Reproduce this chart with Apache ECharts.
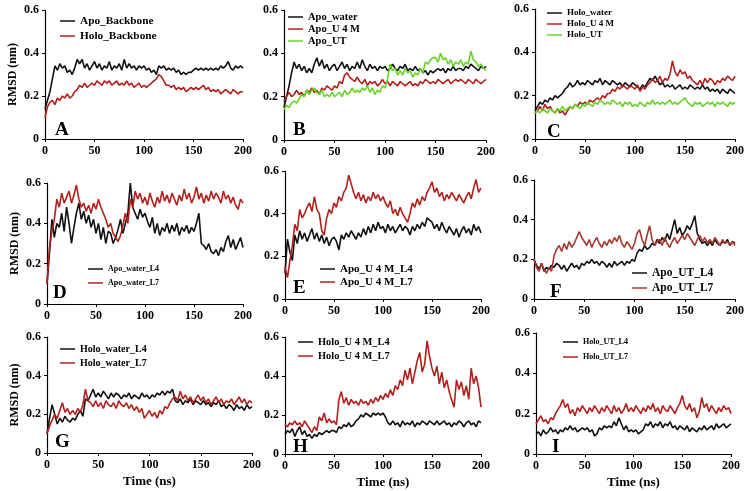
<!DOCTYPE html>
<html>
<head>
<meta charset="utf-8">
<script src="https://cdn.jsdelivr.net/npm/echarts@6/dist/echarts.min.js"></script>
<style>
  html, body { margin:0; padding:0; background:#fff; }
  #chart { width:747px; height:491px; }
</style>
</head>
<body>
<div id="chart"></div>
<script>
// time axis (ns), one frame every 2.5 ns
var time = [0,2.5,5,7.5,10,12.5,15,17.5,20,22.5,25,27.5,30,32.5,35,37.5,40,42.5,45,47.5,
  50,52.5,55,57.5,60,62.5,65,67.5,70,72.5,75,77.5,80,82.5,85,87.5,90,92.5,95,97.5,
  100,102.5,105,107.5,110,112.5,115,117.5,120,122.5,125,127.5,130,132.5,135,137.5,140,142.5,145,147.5,
  150,152.5,155,157.5,160,162.5,165,167.5,170,172.5,175,177.5,180,182.5,185,187.5,190,192.5,195,197.5,200];

var xTicks = [0, 50, 100, 150, 200];
var yTicks = [0, 0.2, 0.4, 0.6];

// A
var apoBackbone = [0.14,0.18,0.22,0.28,0.34,0.32,0.35,0.33,0.34,0.31,
  0.32,0.30,0.33,0.37,0.35,0.37,0.33,0.35,0.32,0.34,
  0.36,0.33,0.35,0.32,0.34,0.33,0.36,0.32,0.34,0.33,
  0.35,0.32,0.37,0.33,0.35,0.33,0.34,0.32,0.34,0.33,
  0.34,0.32,0.33,0.31,0.32,0.30,0.34,0.33,0.34,0.32,
  0.33,0.32,0.33,0.31,0.32,0.30,0.31,0.30,0.31,0.31,
  0.32,0.33,0.32,0.33,0.32,0.33,0.32,0.33,0.32,0.33,
  0.32,0.34,0.33,0.34,0.36,0.33,0.32,0.34,0.33,0.34,0.33];
var holoBackbone = [0.10,0.15,0.17,0.18,0.16,0.19,0.18,0.20,0.19,0.21,
  0.19,0.20,0.22,0.23,0.25,0.24,0.26,0.24,0.25,0.26,
  0.25,0.27,0.26,0.25,0.27,0.26,0.27,0.25,0.26,0.27,
  0.25,0.26,0.25,0.27,0.25,0.26,0.24,0.25,0.26,0.24,
  0.25,0.24,0.25,0.26,0.27,0.28,0.30,0.29,0.27,0.25,
  0.25,0.24,0.25,0.23,0.24,0.23,0.24,0.22,0.23,0.24,
  0.23,0.24,0.23,0.24,0.25,0.23,0.24,0.22,0.23,0.22,
  0.23,0.21,0.22,0.23,0.22,0.21,0.23,0.22,0.21,0.22,0.22];
// B
var apoWater = [0.15,0.20,0.25,0.31,0.36,0.33,0.35,0.32,0.34,0.31,
  0.33,0.31,0.35,0.38,0.34,0.37,0.33,0.35,0.32,0.34,
  0.35,0.32,0.34,0.36,0.33,0.35,0.32,0.34,0.33,0.36,
  0.33,0.37,0.34,0.32,0.35,0.33,0.34,0.32,0.34,0.33,
  0.34,0.32,0.33,0.35,0.33,0.32,0.34,0.33,0.35,0.32,
  0.33,0.32,0.34,0.32,0.33,0.31,0.32,0.30,0.32,0.31,
  0.32,0.33,0.32,0.33,0.31,0.33,0.32,0.34,0.32,0.33,
  0.33,0.32,0.34,0.33,0.35,0.34,0.33,0.32,0.34,0.33,0.34];
var apoUrea = [0.18,0.20,0.22,0.20,0.21,0.23,0.21,0.22,0.20,0.23,
  0.22,0.24,0.22,0.23,0.21,0.24,0.23,0.25,0.24,0.23,
  0.25,0.24,0.27,0.26,0.30,0.31,0.29,0.28,0.27,0.29,
  0.27,0.26,0.28,0.25,0.27,0.26,0.27,0.25,0.26,0.28,
  0.26,0.27,0.25,0.27,0.26,0.25,0.27,0.26,0.25,0.26,
  0.27,0.25,0.26,0.25,0.27,0.26,0.28,0.27,0.26,0.27,
  0.26,0.28,0.27,0.26,0.27,0.28,0.26,0.27,0.28,0.27,
  0.28,0.27,0.26,0.28,0.27,0.26,0.28,0.27,0.26,0.27,0.28];
var apoUT = [0.14,0.16,0.15,0.17,0.18,0.17,0.19,0.21,0.20,0.23,
  0.21,0.23,0.24,0.22,0.21,0.23,0.20,0.21,0.20,0.22,
  0.20,0.21,0.22,0.20,0.23,0.21,0.22,0.24,0.22,0.23,
  0.22,0.24,0.23,0.25,0.22,0.24,0.21,0.23,0.22,0.25,
  0.24,0.28,0.35,0.32,0.33,0.30,0.32,0.30,0.33,0.31,
  0.32,0.29,0.31,0.30,0.33,0.31,0.36,0.35,0.37,0.38,
  0.38,0.36,0.40,0.37,0.38,0.35,0.37,0.34,0.36,0.35,
  0.37,0.34,0.36,0.35,0.41,0.37,0.36,0.34,0.35,0.33,0.32];
// C
var holoWater = [0.13,0.15,0.17,0.16,0.18,0.17,0.19,0.18,0.20,0.19,
  0.20,0.21,0.23,0.24,0.26,0.24,0.25,0.27,0.25,0.26,
  0.25,0.27,0.26,0.25,0.27,0.26,0.28,0.25,0.27,0.26,
  0.25,0.27,0.26,0.25,0.26,0.24,0.26,0.25,0.24,0.26,
  0.25,0.24,0.23,0.25,0.24,0.26,0.28,0.27,0.29,0.27,
  0.25,0.26,0.24,0.25,0.24,0.25,0.23,0.24,0.25,0.23,
  0.24,0.23,0.25,0.24,0.23,0.24,0.23,0.25,0.23,0.24,
  0.22,0.23,0.22,0.23,0.21,0.23,0.22,0.21,0.23,0.22,0.21];
var holoUrea = [0.12,0.13,0.15,0.13,0.16,0.14,0.15,0.13,0.12,0.14,
  0.12,0.13,0.11,0.13,0.15,0.14,0.16,0.15,0.17,0.16,
  0.17,0.16,0.18,0.17,0.18,0.19,0.18,0.20,0.19,0.21,
  0.21,0.23,0.22,0.24,0.23,0.25,0.24,0.23,0.25,0.24,
  0.23,0.25,0.22,0.24,0.23,0.25,0.26,0.28,0.26,0.27,
  0.29,0.26,0.28,0.27,0.30,0.36,0.31,0.29,0.32,0.30,
  0.31,0.28,0.29,0.27,0.26,0.25,0.27,0.25,0.28,0.26,
  0.28,0.27,0.25,0.27,0.26,0.28,0.27,0.29,0.28,0.27,0.29];
var holoUT = [0.12,0.13,0.12,0.14,0.13,0.12,0.14,0.13,0.12,0.14,
  0.13,0.15,0.13,0.14,0.15,0.14,0.16,0.15,0.14,0.16,
  0.15,0.17,0.16,0.15,0.17,0.16,0.18,0.17,0.16,0.17,
  0.16,0.18,0.17,0.16,0.17,0.15,0.17,0.16,0.17,0.15,
  0.16,0.15,0.17,0.16,0.15,0.17,0.16,0.18,0.16,0.17,
  0.16,0.17,0.16,0.17,0.18,0.16,0.17,0.16,0.17,0.18,
  0.19,0.17,0.16,0.15,0.17,0.16,0.17,0.15,0.16,0.17,
  0.16,0.17,0.15,0.17,0.16,0.17,0.16,0.15,0.17,0.16,0.17];
// D
var apoWaterL4 = [0.10,0.25,0.42,0.33,0.40,0.38,0.45,0.36,0.48,0.40,
  0.30,0.38,0.45,0.50,0.42,0.46,0.40,0.44,0.38,0.42,
  0.35,0.40,0.32,0.38,0.30,0.36,0.35,0.30,0.33,0.37,
  0.42,0.35,0.40,0.45,0.60,0.48,0.45,0.42,0.47,0.43,
  0.45,0.41,0.38,0.43,0.35,0.40,0.34,0.38,0.36,0.40,
  0.35,0.39,0.36,0.40,0.34,0.38,0.36,0.39,0.35,0.38,
  0.36,0.40,0.45,0.30,0.29,0.27,0.30,0.26,0.25,0.27,
  0.24,0.28,0.26,0.31,0.34,0.28,0.32,0.27,0.30,0.33,0.28];
var apoWaterL7 = [0.10,0.28,0.36,0.42,0.52,0.48,0.55,0.50,0.53,0.56,
  0.50,0.54,0.59,0.52,0.48,0.50,0.46,0.49,0.45,0.50,
  0.47,0.52,0.48,0.45,0.42,0.38,0.40,0.35,0.33,0.31,
  0.34,0.39,0.45,0.40,0.52,0.48,0.56,0.52,0.55,0.50,
  0.53,0.49,0.55,0.51,0.48,0.53,0.50,0.56,0.51,0.54,
  0.50,0.55,0.52,0.49,0.54,0.51,0.57,0.52,0.55,0.50,
  0.53,0.58,0.52,0.55,0.50,0.54,0.51,0.56,0.52,0.55,
  0.53,0.50,0.56,0.52,0.54,0.50,0.53,0.49,0.47,0.52,0.50];
// E
var apoUreaL4 = [0.12,0.28,0.22,0.18,0.30,0.26,0.32,0.28,0.31,0.27,
  0.30,0.33,0.28,0.31,0.27,0.30,0.26,0.29,0.25,0.28,
  0.29,0.27,0.23,0.30,0.28,0.31,0.29,0.32,0.30,0.28,
  0.31,0.29,0.33,0.30,0.34,0.31,0.35,0.32,0.36,0.33,
  0.34,0.31,0.35,0.32,0.34,0.31,0.33,0.35,0.32,0.34,
  0.33,0.30,0.34,0.32,0.35,0.33,0.36,0.34,0.38,0.37,
  0.36,0.33,0.35,0.32,0.36,0.33,0.31,0.34,0.32,0.30,
  0.33,0.29,0.32,0.34,0.31,0.33,0.30,0.35,0.32,0.34,0.31];
var apoUreaL7 = [0.15,0.10,0.18,0.25,0.35,0.32,0.42,0.38,0.40,0.43,
  0.45,0.41,0.48,0.42,0.40,0.32,0.30,0.38,0.42,0.40,
  0.45,0.43,0.48,0.46,0.50,0.52,0.58,0.54,0.50,0.47,
  0.50,0.46,0.49,0.45,0.48,0.46,0.50,0.47,0.49,0.46,
  0.48,0.45,0.43,0.46,0.40,0.42,0.39,0.43,0.40,0.38,
  0.36,0.40,0.45,0.43,0.47,0.44,0.48,0.46,0.50,0.52,
  0.55,0.50,0.52,0.48,0.50,0.46,0.49,0.47,0.50,0.48,
  0.46,0.49,0.47,0.45,0.48,0.50,0.47,0.52,0.56,0.50,0.52];
// F
var apoUTL4 = [0.20,0.17,0.15,0.18,0.14,0.16,0.15,0.17,0.16,0.18,
  0.17,0.15,0.17,0.14,0.16,0.18,0.16,0.17,0.15,0.18,
  0.17,0.19,0.18,0.20,0.18,0.19,0.17,0.19,0.18,0.16,
  0.18,0.16,0.19,0.17,0.18,0.19,0.17,0.19,0.18,0.20,
  0.19,0.23,0.25,0.24,0.27,0.25,0.26,0.28,0.27,0.30,
  0.28,0.31,0.29,0.33,0.30,0.35,0.40,0.33,0.36,0.32,
  0.34,0.37,0.35,0.38,0.42,0.33,0.30,0.28,0.29,0.27,
  0.29,0.27,0.30,0.28,0.27,0.29,0.28,0.30,0.27,0.29,0.28];
var apoUTL7 = [0.20,0.16,0.14,0.18,0.15,0.13,0.16,0.14,0.22,0.25,
  0.27,0.24,0.28,0.25,0.29,0.26,0.28,0.31,0.34,0.31,
  0.29,0.27,0.30,0.26,0.29,0.31,0.28,0.26,0.29,0.27,
  0.30,0.28,0.31,0.29,0.32,0.28,0.26,0.29,0.27,0.25,
  0.28,0.33,0.35,0.30,0.27,0.32,0.37,0.30,0.27,0.29,
  0.30,0.27,0.31,0.28,0.26,0.29,0.31,0.28,0.30,0.32,
  0.30,0.33,0.31,0.29,0.27,0.30,0.32,0.29,0.31,0.28,
  0.30,0.28,0.31,0.29,0.27,0.30,0.28,0.29,0.27,0.29,0.27];
// G
var holoWaterL4 = [0.10,0.18,0.25,0.20,0.15,0.18,0.16,0.19,0.17,0.16,
  0.18,0.17,0.20,0.22,0.19,0.28,0.27,0.30,0.33,0.29,
  0.31,0.29,0.32,0.30,0.28,0.31,0.29,0.31,0.30,0.28,
  0.30,0.29,0.31,0.28,0.30,0.29,0.28,0.31,0.29,0.30,
  0.28,0.30,0.29,0.31,0.30,0.32,0.30,0.32,0.31,0.33,
  0.27,0.26,0.28,0.25,0.27,0.26,0.28,0.25,0.27,0.26,
  0.25,0.27,0.25,0.26,0.24,0.26,0.25,0.27,0.24,0.25,
  0.23,0.25,0.24,0.22,0.25,0.23,0.24,0.22,0.25,0.23,0.24];
var holoWaterL7 = [0.10,0.14,0.17,0.20,0.18,0.22,0.26,0.21,0.23,0.20,
  0.22,0.20,0.23,0.21,0.25,0.33,0.27,0.26,0.24,0.27,
  0.24,0.26,0.23,0.27,0.25,0.24,0.26,0.23,0.27,0.25,
  0.24,0.26,0.23,0.25,0.22,0.24,0.21,0.23,0.18,0.20,
  0.22,0.19,0.21,0.18,0.22,0.20,0.24,0.23,0.26,0.28,
  0.29,0.27,0.32,0.28,0.30,0.27,0.29,0.26,0.28,0.30,
  0.27,0.29,0.26,0.28,0.25,0.27,0.29,0.26,0.28,0.25,
  0.27,0.26,0.28,0.25,0.27,0.29,0.26,0.28,0.25,0.27,0.26];
// H
var holoUreaL4 = [0.10,0.12,0.11,0.13,0.09,0.12,0.14,0.10,0.12,0.09,
  0.10,0.08,0.10,0.09,0.11,0.10,0.11,0.12,0.11,0.12,
  0.12,0.11,0.14,0.13,0.15,0.14,0.16,0.14,0.15,0.17,
  0.18,0.20,0.19,0.21,0.20,0.19,0.21,0.20,0.21,0.20,
  0.21,0.19,0.16,0.15,0.17,0.15,0.16,0.14,0.17,0.15,
  0.16,0.15,0.17,0.14,0.16,0.15,0.17,0.16,0.15,0.17,
  0.16,0.15,0.17,0.15,0.16,0.17,0.15,0.16,0.14,0.16,
  0.15,0.17,0.16,0.14,0.16,0.17,0.15,0.16,0.14,0.17,0.16];
var holoUreaL7 = [0.15,0.14,0.16,0.15,0.17,0.15,0.16,0.14,0.17,0.15,
  0.13,0.11,0.14,0.12,0.19,0.17,0.21,0.16,0.18,0.16,
  0.17,0.15,0.28,0.32,0.26,0.29,0.25,0.28,0.26,0.27,
  0.25,0.28,0.26,0.27,0.25,0.28,0.26,0.29,0.27,0.30,
  0.28,0.31,0.29,0.33,0.30,0.35,0.33,0.38,0.35,0.43,
  0.38,0.44,0.36,0.42,0.48,0.52,0.42,0.46,0.58,0.50,
  0.44,0.40,0.45,0.36,0.42,0.34,0.38,0.32,0.28,0.24,
  0.38,0.33,0.37,0.30,0.35,0.28,0.44,0.36,0.40,0.34,0.24];
// I
var holoUTL4 = [0.10,0.11,0.09,0.12,0.10,0.11,0.13,0.11,0.12,0.10,
  0.12,0.11,0.13,0.12,0.14,0.12,0.13,0.11,0.12,0.13,
  0.12,0.13,0.11,0.12,0.09,0.10,0.13,0.12,0.14,0.13,
  0.14,0.13,0.16,0.14,0.18,0.15,0.12,0.14,0.11,0.12,
  0.11,0.12,0.10,0.11,0.12,0.15,0.14,0.16,0.13,0.15,
  0.14,0.16,0.13,0.15,0.14,0.16,0.13,0.14,0.12,0.14,
  0.13,0.12,0.14,0.11,0.13,0.12,0.11,0.13,0.12,0.14,
  0.12,0.13,0.14,0.12,0.15,0.13,0.14,0.15,0.13,0.14,0.15];
var holoUTL7 = [0.15,0.17,0.19,0.16,0.17,0.15,0.18,0.17,0.20,0.22,
  0.24,0.27,0.23,0.25,0.20,0.22,0.19,0.23,0.21,0.24,
  0.22,0.20,0.23,0.21,0.24,0.22,0.20,0.23,0.21,0.24,
  0.22,0.20,0.24,0.21,0.23,0.20,0.22,0.25,0.21,0.23,
  0.21,0.24,0.22,0.20,0.23,0.21,0.24,0.22,0.25,0.21,
  0.23,0.20,0.24,0.22,0.21,0.24,0.22,0.20,0.23,0.25,
  0.29,0.24,0.22,0.25,0.21,0.23,0.18,0.21,0.28,0.23,
  0.25,0.21,0.24,0.22,0.20,0.23,0.21,0.24,0.22,0.23,0.20];

var BLACK = '#111111', RED = '#b3201c', GREEN = '#66d424', BROWN = '#a8392e';
var FONT = 'Liberation Serif';

// layout per panel: grid [left, top, width, height], letter pos,
// legend [text x, top, row height, font size]
var panels = [
  {grid:[45,10,198,129],  letter:'A', lp:[55,121],  leg:[80,13.5,15,11.3], s:[['Apo_Backbone',apoBackbone,BLACK],['Holo_Backbone',holoBackbone,RED]]},
  {grid:[284,10,202,130], letter:'B', lp:[293,121], leg:[308,11,12,10.5],  s:[['Apo_water',apoWater,BLACK],['Apo_U 4 M',apoUrea,RED],['Apo_UT',apoUT,GREEN]]},
  {grid:[535,9,202,130],  letter:'C', lp:[547,123], leg:[567,7.5,11,9],    s:[['Holo_water',holoWater,BLACK],['Holo_U 4 M',holoUrea,RED],['Holo_UT',holoUT,GREEN]]},
  {grid:[47,183,196,121], letter:'D', lp:[53,284],  leg:[108,262,14,8],    s:[['Apo_water_L4',apoWaterL4,BLACK],['Apo_water_L7',apoWaterL7,RED]]},
  {grid:[285,171,196,128],letter:'E', lp:[293,279], leg:[340,262.5,13,11], s:[['Apo_U 4 M_L4',apoUreaL4,BLACK],['Apo_U 4 M_L7',apoUreaL7,RED]]},
  {grid:[534,180,201,119],letter:'F', lp:[550,283], leg:[652,265.5,15,11.5], s:[['Apo_UT_L4',apoUTL4,BLACK],['Apo_UT_L7',apoUTL7,BROWN]]},
  {grid:[47,337,205,116], letter:'G', lp:[55,433],  leg:[80,342,14,10],    s:[['Holo_water_L4',holoWaterL4,BLACK],['Holo_water_L7',holoWaterL7,RED]]},
  {grid:[285,337,196,117],letter:'H', lp:[293,438], leg:[318,335,14,10.4], s:[['Holo_U 4 M_L4',holoUreaL4,BLACK],['Holo_U 4 M_L7',holoUreaL7,RED]]},
  {grid:[536,333,195,121],letter:'I', lp:[552,438], leg:[583,334.5,15,8],  s:[['Holo_UT_L4',holoUTL4,BLACK],['Holo_UT_L7',holoUTL7,RED]]}
];

function pairs(vals) {
  return time.map(function (t, i) { return [t, vals[i]]; });
}

var grids = [], xAxes = [], yAxes = [], series = [], legends = [], titles = [];
var axisText = {color:'#000', fontFamily:FONT, fontWeight:'bold', fontSize:12};

panels.forEach(function (p, k) {
  grids.push({left:p.grid[0], top:p.grid[1], width:p.grid[2], height:p.grid[3]});
  xAxes.push({
    type:'value', gridIndex:k, min:xTicks[0], max:xTicks[xTicks.length-1], interval:xTicks[1]-xTicks[0],
    axisLine:{lineStyle:{color:'#000', width:1.2}}, axisTick:{length:3, lineStyle:{color:'#000'}},
    axisLabel:Object.assign({margin:6}, axisText), splitLine:{show:false},
    name: k >= 6 ? 'Time (ns)' : '', nameLocation:'middle', nameGap:22,
    nameTextStyle:{color:'#000', fontFamily:FONT, fontWeight:'bold', fontSize:13}
  });
  yAxes.push({
    type:'value', gridIndex:k, min:yTicks[0], max:yTicks[yTicks.length-1], interval:yTicks[1]-yTicks[0],
    axisLine:{show:true, lineStyle:{color:'#000', width:1.2}}, axisTick:{show:true, length:3, lineStyle:{color:'#000'}},
    axisLabel:Object.assign({margin:6}, axisText), splitLine:{show:false},
    name: k % 3 === 0 ? 'RMSD (nm)' : '', nameLocation:'middle', nameGap:26, nameRotate:90,
    nameTextStyle:{color:'#000', fontFamily:FONT, fontWeight:'bold', fontSize:12}
  });
  p.s.forEach(function (s) {
    series.push({
      name:s[0], type:'line', xAxisIndex:k, yAxisIndex:k, data:pairs(s[1]),
      showSymbol:false, symbol:'none', lineStyle:{color:s[2], width:1.6}, itemStyle:{color:s[2]}
    });
  });
  legends.push({
    left:p.leg[0] - 20, top:p.leg[1], padding:0, orient:'vertical', icon:'rect', itemWidth:15, itemHeight:1.5,
    itemGap:0, selectedMode:false, data:p.s.map(function (s) { return s[0]; }),
    textStyle:{color:'#000', fontFamily:FONT, fontWeight:'bold', fontSize:p.leg[3], lineHeight:p.leg[2]}
  });
  titles.push({
    text:p.letter, left:p.lp[0], top:p.lp[1], padding:0,
    textStyle:{color:'#000', fontFamily:FONT, fontWeight:'bold', fontSize:19}
  });
});

var chart = echarts.init(document.getElementById('chart'));
chart.setOption({
  animation:false,
  backgroundColor:'#fff',
  title:titles,
  legend:legends,
  grid:grids,
  xAxis:xAxes,
  yAxis:yAxes,
  series:series
});
</script>
</body>
</html>
